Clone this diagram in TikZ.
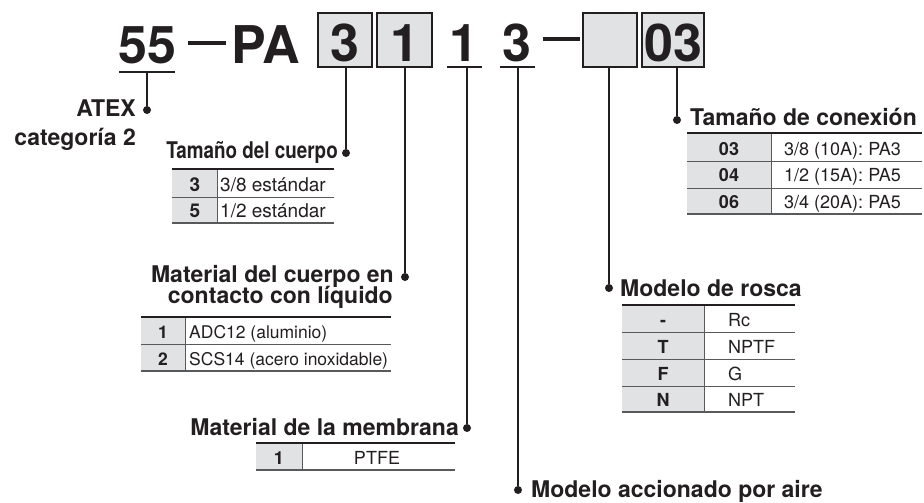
\documentclass[tikz,border=0pt]{standalone}
\usepackage{fontspec}
\usetikzlibrary{calc}
\setmainfont{TeX Gyre Heros}
\newfontfamily\condfont[FakeStretch=0.82]{TeX Gyre Heros}
\definecolor{ink}{HTML}{231F20}
\definecolor{boxgray}{HTML}{E1E2E4}
\definecolor{rulegray}{HTML}{58595B}
\begin{document}
\begin{tikzpicture}[x=1pt,y=-1pt,
  hdr/.style={font=\fontsize{52}{52}\selectfont\bfseries, text=ink, inner sep=0pt, anchor=base},
  codebox/.style={draw=ink, line width=1.6pt, fill=boxgray, inner sep=0pt, minimum height=54pt},
  uline/.style={draw=ink, line width=1.6pt},
  dashbar/.style={draw=ink, line width=4pt},
  lead/.style={draw=ink, line width=1.8pt},
  dotst/.style={circle, fill=ink, inner sep=0pt, minimum size=8pt},
  lbl/.style={font=\fontsize{23}{25}\selectfont\bfseries, text=ink, inner sep=0pt},
  cbl/.style={font=\fontsize{23}{25}\condfont\bfseries, text=ink, inner sep=0pt},
  cellkey/.style={font=\fontsize{18}{18}\selectfont\bfseries, text=ink, inner sep=0pt, anchor=base},
  cellval/.style={font=\fontsize{18}{18}\selectfont, text=ink, inner sep=0pt, anchor=base west},
  cellvalc/.style={font=\fontsize{18}{18}\selectfont, text=ink, inner sep=0pt, anchor=base},
  bigcell/.style={font=\fontsize{19}{19}\selectfont},
  bigkey/.style={font=\fontsize{19}{19}\selectfont\bfseries},
  smallcell/.style={font=\fontsize{17.5}{18}\selectfont},
  smallkey/.style={font=\fontsize{17.5}{18}\selectfont\bfseries},
  toprule/.style={draw=ink, line width=2.2pt},
  rowrule/.style={draw=rulegray, line width=1pt},
  botrule/.style={draw=rulegray, line width=1.3pt},
  colrule/.style={draw=rulegray, line width=1pt},
  keyfill/.style={fill=boxgray}
]
\useasboundingbox (0,0) rectangle (924,503);

% ---------- header ----------
\node[hdr] (h55) at (147,64) {55};
\coordinate (u55) at (147,72);
\draw[uline] ($(u55)+(-28,0)$) -- ($(u55)+(28,0)$);
\coordinate (dsh1) at (207,43);
\draw[dashbar] ($(dsh1)+(-19,0)$) -- ($(dsh1)+(19,0)$);
\node[hdr] (hPA) at (266,64) {PA};

\node[codebox, minimum width=54pt] (b3) at (345,40) {};
\node[hdr] (t3) at (345,62) {3};
\node[codebox, minimum width=55pt] (b1) at (404.5,40) {};
\node[hdr] (t1) at (404.5,62) {1};

\node[hdr] (f1) at (464,62) {1};
\coordinate (u1) at (464.5,67);
\draw[uline] ($(u1)+(-17.5,0)$) -- ($(u1)+(17.5,0)$);
\node[hdr] (f3) at (517,62) {3};
\coordinate (u3) at (517.5,67);
\draw[uline] ($(u3)+(-17.5,0)$) -- ($(u3)+(17.5,0)$);

\coordinate (dsh2) at (561.5,39);
\draw[dashbar] ($(dsh2)+(-18.5,0)$) -- ($(dsh2)+(18.5,0)$);

\node[codebox, minimum width=54pt] (be) at (610,40) {};
\node[codebox, minimum width=62pt] (b03) at (673,40) {};
\node[hdr] (t03) at (673,62) {03};

% ---------- dots ----------
\node[dotst] (d1) at (147,110) {};
\node[dotst] (d2) at (346,153) {};
\node[dotst] (d3) at (405,277) {};
\node[dotst] (d4) at (467,428) {};
\node[dotst] (d5) at (518,490) {};
\node[dotst] (d6) at (609,288) {};
\node[dotst] (d7) at (677,120) {};

% ---------- leaders ----------
\draw[lead] (u55 -| d1) -- (d1);
\draw[lead] (b3.south -| d2) -- (d2);
\draw[lead] (b1.south -| d3) -- (d3);
\draw[lead] (u1 -| d4) -- (d4);
\draw[lead] (u3 -| d5) -- (d5);
\draw[lead] (be.south -| d6) -- (d6);
\draw[lead] (b03.south -| d7) -- (d7);

% ---------- labels ----------
\node[lbl, anchor=base east] (l1a) at (136,117) {ATEX};
\node[lbl, anchor=base east] (l1b) at (136,145) {categoría 2};
\node[cbl, anchor=base east] (l2) at (338,158) {Tamaño del cuerpo};
\node[lbl, anchor=base east] (l3a) at (394,282) {Material del cuerpo en};
\node[lbl, anchor=base east] (l3b) at (393,303) {contacto con líquido};
\node[lbl, anchor=base east] (l4) at (459,435) {Material de la membrana};
\node[lbl, anchor=base west] (l5) at (531,497) {Modelo accionado por aire};
\node[lbl, anchor=base west] (l6) at (620,296) {Modelo de rosca};
\node[lbl, anchor=base west] (l7) at (690,125) {Tamaño de conexión};

% ---------- table: Tamaño del cuerpo ----------
\fill[keyfill] (172,169) rectangle (217,223);
\draw[rowrule] (172,197) -- (334,197);
\draw[botrule] (172,223) -- (334,223);
\draw[colrule] (217,169) -- (217,223);
\draw[toprule] (172,169) -- (334,169);
\node[cellkey, bigkey] (a1k) at (195,191) {3};
\node[cellval, bigcell] (a1v) at (220,191) {3/8 estándar};
\node[cellkey, bigkey] (a2k) at (195,217) {5};
\node[cellval, bigcell] (a2v) at (220,217) {1/2 estándar};

% ---------- table: Material del cuerpo ----------
\fill[keyfill] (141,317) rectangle (185,371);
\draw[rowrule] (141,344) -- (391,344);
\draw[botrule] (141,371) -- (391,371);
\draw[colrule] (185,317) -- (185,371);
\draw[toprule] (141,317) -- (391,317);
\node[cellkey, smallkey] (m1k) at (163,338) {1};
\node[cellval, smallcell] (m1v) at (189,338) {ADC12 (aluminio)};
\node[cellkey, smallkey] (m2k) at (163,365) {2};
\node[cellval, smallcell] (m2v) at (189,365) {SCS14 (acero inoxidable)};

% ---------- table: Material de la membrana ----------
\fill[keyfill] (256,443) rectangle (302,470);
\draw[botrule] (256,470) -- (455,470);
\draw[colrule] (302,443) -- (302,470);
\draw[toprule] (256,443) -- (455,443);
\node[cellkey] (p1k) at (279,464) {1};
\node[cellvalc] (p1v) at (377,464) {PTFE};

% ---------- table: Modelo de rosca ----------
\fill[keyfill] (622,305) rectangle (704,412);
\draw[rowrule] (622,332) -- (795,332);
\draw[rowrule] (622,359) -- (795,359);
\draw[rowrule] (622,386) -- (795,386);
\draw[botrule] (622,412) -- (795,412);
\draw[colrule] (704,305) -- (704,412);
\draw[toprule] (622,305) -- (795,305);
\node[cellkey] (r1k) at (663,326) {-};
\node[cellval] (r1v) at (728,326) {Rc};
\node[cellkey] (r2k) at (663,353) {T};
\node[cellval] (r2v) at (728,353) {NPTF};
\node[cellkey] (r3k) at (663,380) {F};
\node[cellval] (r3v) at (728,380) {G};
\node[cellkey] (r4k) at (663,406) {N};
\node[cellval] (r4v) at (728,406) {NPT};

% ---------- table: Tamaño de conexión ----------
\fill[keyfill] (687,133) rectangle (771,214);
\draw[rowrule] (687,161) -- (922,161);
\draw[rowrule] (687,188) -- (922,188);
\draw[botrule] (687,214) -- (922,214);
\draw[colrule] (771,133) -- (771,214);
\draw[toprule] (687,133) -- (922,133);
\node[cellkey] (c1k) at (729,155) {03};
\node[cellval] (c1v) at (784,155) {3/8 (10A): PA3};
\node[cellkey] (c2k) at (729,181) {04};
\node[cellval] (c2v) at (784,181) {1/2 (15A): PA5};
\node[cellkey] (c3k) at (729,208) {06};
\node[cellval] (c3v) at (784,208) {3/4 (20A): PA5};
\end{tikzpicture}
\end{document}
